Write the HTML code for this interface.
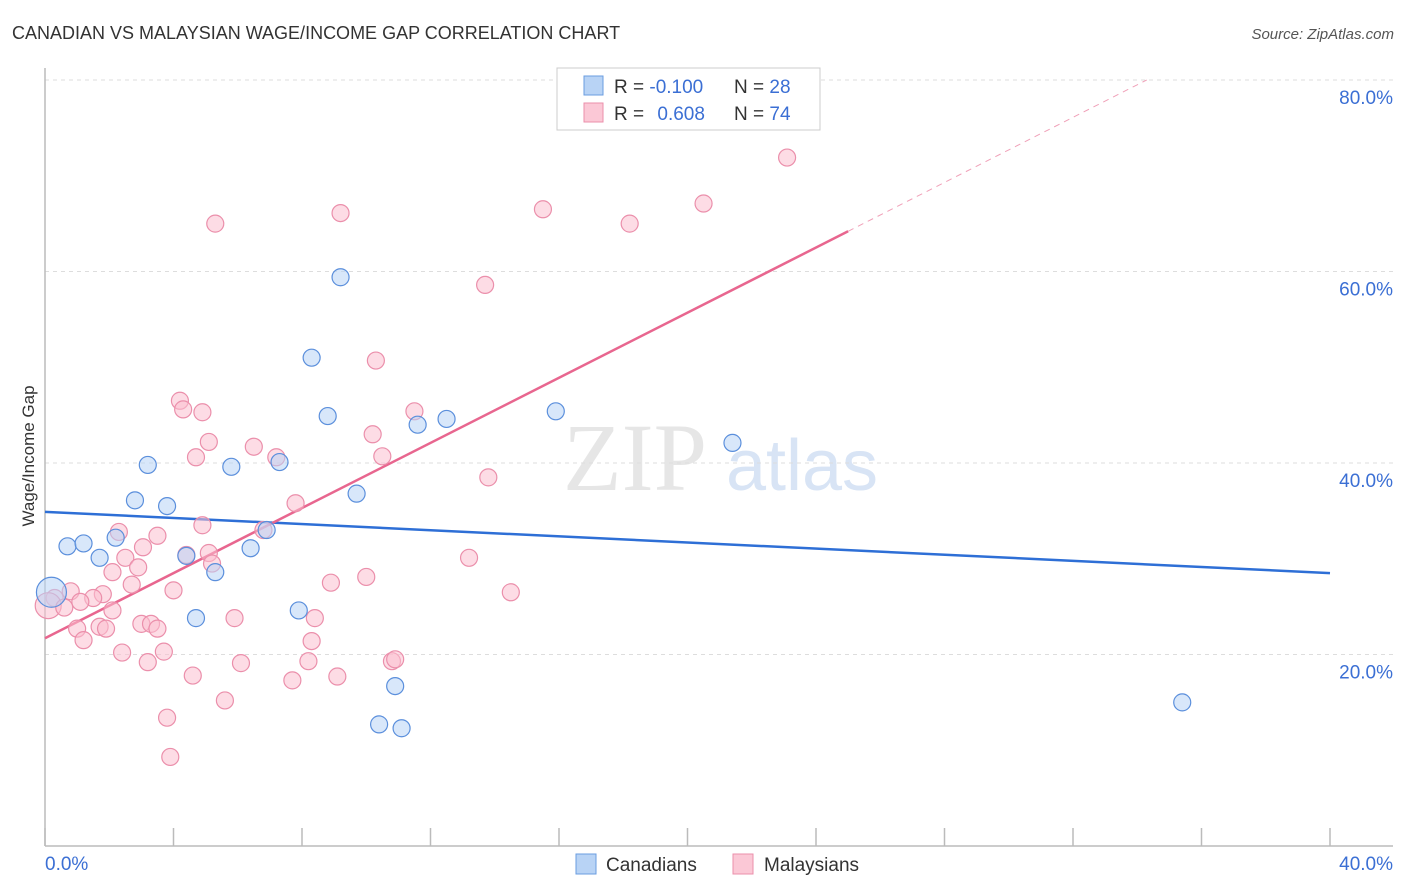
<!DOCTYPE html>
<html><head><meta charset="utf-8"><style>
body{margin:0;background:#fff;font-family:"Liberation Sans",sans-serif}
svg{display:block}
</style></head><body>
<svg id="chart" width="1406" height="892">
<text x="12" y="39" font-size="18" fill="#333">CANADIAN VS MALAYSIAN WAGE/INCOME GAP CORRELATION CHART</text>
<text x="1394" y="39" font-size="15" fill="#555" font-style="italic" text-anchor="end">Source: ZipAtlas.com</text>
<text x="34" y="456" font-size="17" fill="#333" text-anchor="middle" transform="rotate(-90 34 456)">Wage/Income Gap</text>
<g>
<text x="635" y="490" font-size="96" font-family="Liberation Serif,serif" fill="#e6e6e6" text-anchor="middle">ZIP</text>
<text x="802" y="490" font-size="72" fill="#d8e4f5" text-anchor="middle">atlas</text>
</g>
<g id="grid"></g><g id="axes"></g><g id="trend"></g><g id="points"></g>
<g>
<rect x="557" y="68" width="263" height="62" fill="#fff" stroke="#ccc"/>
<rect x="584" y="76" width="19" height="19" fill="#b8d3f5" stroke="#6a9ce0"/>
<rect x="584" y="103" width="19" height="19" fill="#fbc8d6" stroke="#eb8fab"/>
<text x="614" y="93" font-size="19" fill="#333">R = <tspan fill="#3b6fd4">-0.100</tspan></text>
<text x="734" y="93" font-size="19" fill="#333">N = <tspan fill="#3b6fd4">28</tspan></text>
<text x="614" y="120" font-size="19" fill="#333">R = <tspan fill="#3b6fd4" dx="8">0.608</tspan></text>
<text x="734" y="120" font-size="19" fill="#333">N = <tspan fill="#3b6fd4">74</tspan></text>
</g>
<g>
<rect x="576" y="854" width="20" height="20" fill="#b8d3f5" stroke="#6a9ce0"/>
<text x="606" y="871" font-size="19" fill="#333">Canadians</text>
<rect x="733" y="854" width="20" height="20" fill="#fbc8d6" stroke="#eb8fab"/>
<text x="764" y="871" font-size="19" fill="#333">Malaysians</text>
</g>
</svg>
<script>
const blueX=[0.2,0.7,1.2,1.7,2.2,2.8,3.2,3.8,4.4,4.7,5.3,5.8,6.4,6.9,7.3,7.9,8.3,8.8,9.2,9.7,10.4,10.9,11.1,11.6,12.5,15.9,21.4,35.4];
const blueY=[26.5,31.3,31.6,30.1,32.2,36.1,39.8,35.5,30.3,23.8,28.6,39.6,31.1,33.0,40.1,24.6,51.0,44.9,59.4,36.8,12.7,16.7,12.3,44.0,44.6,45.4,42.1,15.0];
const pinkX=[5.3,9.2,15.5,18.2,20.5,23.1,13.7,10.3,4.2,4.3,4.9,11.5,5.1,6.5,10.2,4.7,7.2,10.5,13.8,7.8,4.9,2.3,3.5,3.05,4.4,5.1,2.5,5.2,2.9,2.1,13.2,8.9,10.0,2.7,4.0,14.5,0.8,1.8,1.5,1.1,0.3,0.1,0.6,2.1,5.9,8.4,3.0,3.3,3.5,1.7,1.0,1.9,1.2,8.3,2.4,3.7,3.2,6.1,8.2,10.8,10.9,4.6,7.7,9.1,5.6,3.8,3.9,6.8];
const pinkY=[65.0,66.1,66.5,65.0,67.1,71.9,58.6,50.7,46.5,45.6,45.3,45.4,42.2,41.7,43.0,40.6,40.6,40.7,38.5,35.8,33.5,32.8,32.4,31.2,30.4,30.6,30.1,29.5,29.1,28.6,30.1,27.5,28.1,27.3,26.7,26.5,26.6,26.3,25.9,25.5,25.9,25.1,24.9,24.6,23.8,23.8,23.2,23.2,22.7,22.9,22.7,22.7,21.5,21.4,20.2,20.3,19.2,19.1,19.3,19.3,19.5,17.8,17.3,17.7,15.2,13.4,9.3,33.0];
const yTicks=[20,40,60,80];
const yTickLabels=["20.0%","40.0%","60.0%","80.0%"];
const xTicks=[0,4,8,12,16,20,24,28,32,36,40];
const blueTrend=[34.9,28.5];
const pinkTrend=[21.7,1.70];
const X0=45,X1=1330,Y0=846,YPER=191.5/20;
const sx=v=>X0+(X1-X0)*v/40, sy=v=>Y0-v*YPER;
const NS="http://www.w3.org/2000/svg";
function mk(tag,attrs,parent){const e=document.createElementNS(NS,tag);for(const k in attrs)e.setAttribute(k,attrs[k]);document.getElementById(parent).appendChild(e);return e;}
yTicks.forEach((t,i)=>{
  const g=mk('line',{x1:45,x2:1393,y1:sy(t),y2:sy(t),stroke:'#ddd','stroke-dasharray':'4,4'},'grid');
  
  
  const l=mk('text',{x:1393,y:sy(t)+24,'font-size':19,fill:'#3b6fd4','text-anchor':'end'},'axes');
  l.textContent=yTickLabels[i];
  
  
});
let a=mk('line',{x1:45,x2:45,y1:68,y2:846,stroke:'#bbb','stroke-width':1.5},'axes');


a=mk('line',{x1:45,x2:1393,y1:846,y2:846,stroke:'#bbb','stroke-width':1.5},'axes');


xTicks.forEach(t=>{
  const k=mk('line',{x1:sx(t),x2:sx(t),y1:828,y2:846,stroke:'#bbb','stroke-width':1.5},'axes');
  
  
});
let xl=mk('text',{x:45,y:870,'font-size':19,fill:'#3b6fd4'},'axes');xl.textContent='0.0%';


xl=mk('text',{x:1393,y:870,'font-size':19,fill:'#3b6fd4','text-anchor':'end'},'axes');xl.textContent='40.0%';


function dot(x,y,r,fill,stroke,name){const c=mk('circle',{cx:sx(x),cy:sy(y),r:r,fill:fill,'fill-opacity':0.55,stroke:stroke,'stroke-width':1.2},'points');

}
pinkX.forEach((x,i)=>dot(x,pinkY[i],i==41?13:8.5,'#fbc0d0','#eb8fab','malaysian-point'));
blueX.forEach((x,i)=>dot(x,blueY[i],i==0?15:8.5,'#b8d3f5','#5b8fdc','canadian-point'));
let t=mk('line',{x1:sx(0),y1:sy(blueTrend[0]),x2:sx(40),y2:sy(blueTrend[1]),stroke:'#2e6fd6','stroke-width':2.5},'trend');


const pEnd=25, pMax=(80-pinkTrend[0])/pinkTrend[1];
t=mk('line',{x1:sx(0),y1:sy(pinkTrend[0]),x2:sx(pEnd),y2:sy(pinkTrend[0]+pinkTrend[1]*pEnd),stroke:'#e8668f','stroke-width':2.5},'trend');


t=mk('line',{x1:sx(pEnd),y1:sy(pinkTrend[0]+pinkTrend[1]*pEnd),x2:sx(pMax),y2:sy(80),stroke:'#f0a0b8','stroke-width':1,'stroke-dasharray':'6,5'},'trend');


</script>
</body></html>
